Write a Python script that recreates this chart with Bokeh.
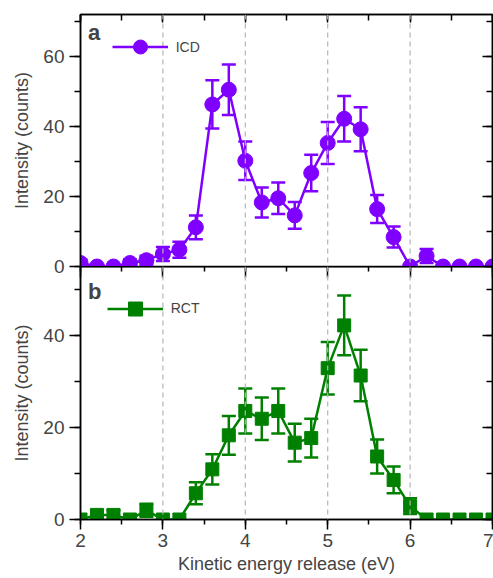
from bokeh.plotting import figure
from bokeh.models import (Range1d, LinearAxis, SingleIntervalTicker, ColumnDataSource,
                          Whisker, TeeHead, Span, Legend, LegendItem, Label)
from bokeh.layouts import column
from bokeh.embed import file_html
from bokeh.resources import INLINE

# ---------------- data ----------------
energy = [2.0, 2.2, 2.4, 2.6, 2.8, 3.0, 3.2, 3.4, 3.6, 3.8, 4.0, 4.2, 4.4,
          4.6, 4.8, 5.0, 5.2, 5.4, 5.6, 5.8, 6.0, 6.2, 6.4, 6.6, 6.8, 7.0]
icd_counts = [1.0, 0.0, 0.0, 1.0, 1.8, 3.6, 4.8, 11.2, 46.3, 50.5, 30.2, 18.3, 19.5,
              14.6, 26.7, 35.3, 42.2, 39.2, 16.4, 8.4, 0.0, 3.0, 0.0, 0.0, 0.0, 0.0]
icd_err = [1.0, 0.0, 0.0, 1.0, 1.3, 2.0, 2.3, 3.4, 6.9, 7.2, 5.5, 4.3, 4.5,
           3.8, 5.2, 6.0, 6.5, 6.3, 4.0, 3.0, 0.0, 2.0, 0.0, 0.0, 0.0, 0.0]
rct_counts = [0.0, 1.0, 1.0, 0.0, 2.0, 0.0, 0.0, 5.7, 10.9, 18.3, 23.6, 21.9, 23.6,
              16.7, 17.7, 32.9, 42.2, 31.3, 13.7, 8.6, 2.9, 0.0, 0.0, 0.0, 0.0, 0.0]
rct_err = [0.0, 1.0, 1.0, 0.0, 1.4, 0.0, 0.0, 2.4, 3.3, 4.2, 4.9, 4.6, 4.9,
           4.1, 4.2, 5.7, 6.5, 5.6, 3.7, 2.9, 1.7, 0.0, 0.0, 0.0, 0.0, 0.0]
ref_lines = [3, 4, 5, 6]
x_limits = (2, 7)
icd_ylim = (0, 72)
rct_ylim = (0, 55)

PURPLE = "#8000FF"
GREEN = "#008000"
FONT = "Liberation Sans"

xr = Range1d(*x_limits)


def style_left(ax, label):
    ax.ticker = SingleIntervalTicker(interval=20, num_minor_ticks=2)
    ax.axis_label = label
    ax.axis_label_text_font = FONT
    ax.axis_label_text_font_size = "18px"
    ax.axis_label_text_font_style = "normal"
    ax.axis_label_standoff = 8
    ax.major_label_text_font = FONT
    ax.major_label_text_font_size = "19px"
    ax.major_label_standoff = 5
    ax.major_tick_in = 0
    ax.major_tick_out = 11
    ax.minor_tick_in = 0
    ax.minor_tick_out = 6
    ax.axis_line_width = 1.5
    ax.major_tick_line_width = 1.5
    ax.minor_tick_line_width = 1.5


def mirror_axis(ticker, tin, mtin):
    return LinearAxis(ticker=ticker, major_label_text_font_size="1px",
                      major_label_text_color=None,
                      major_label_standoff=0, major_tick_in=tin, major_tick_out=0,
                      minor_tick_in=mtin, minor_tick_out=0, axis_line_width=1.5,
                      major_tick_line_width=1.5, minor_tick_line_width=1.5)


def draw_series(p, counts, err, color, marker, size, name, legend_loc):
    src = ColumnDataSource(dict(x=energy, y=counts))
    eb = dict(x=[], lo=[], hi=[])
    for xv, yv, ev in zip(energy, counts, err):
        if ev > 0:
            eb["x"].append(xv)
            eb["lo"].append(yv - ev)
            eb["hi"].append(yv + ev)
    esrc = ColumnDataSource(eb)
    for xv in ref_lines:
        p.add_layout(Span(location=xv, dimension="height", line_color="#B4B4B4",
                          line_width=1.2, line_dash="5 4"))
    w = Whisker(source=esrc, base="x", upper="hi", lower="lo", dimension="height",
                line_color=color, line_width=2.5,
                upper_head=TeeHead(size=14, line_color=color, line_width=2.5),
                lower_head=TeeHead(size=14, line_color=color, line_width=2.5))
    p.add_layout(w)
    lr = p.line("x", "y", source=src, line_color=color, line_width=2.5)
    sr = p.scatter("x", "y", source=src, marker=marker, size=size,
                   fill_color=color, line_color=color)
    leg = Legend(items=[LegendItem(label=name, renderers=[lr, sr])],
                 location=legend_loc, border_line_color=None,
                 background_fill_alpha=0, padding=0, margin=0, spacing=0,
                 glyph_width=56, glyph_height=35, label_standoff=8,
                 label_text_font=FONT, label_text_font_size="14px", label_height=35)
    p.add_layout(leg)


# ---------------- top panel (ICD) ----------------
p1 = figure(width=493, height=276, x_range=xr, y_range=Range1d(*icd_ylim),
            output_backend="svg", toolbar_location=None, x_axis_location=None,
            min_border_left=80, min_border_right=1, min_border_top=14, min_border_bottom=10)
p1.xgrid.visible = False
p1.ygrid.visible = False
p1.outline_line_color = "black"
p1.outline_line_width = 1.5
p1.border_fill_color = None
style_left(p1.left[0], "Intensity (counts)")
p1.add_layout(mirror_axis(SingleIntervalTicker(interval=1, num_minor_ticks=2), 8, 6), "above")
p1.add_layout(mirror_axis(SingleIntervalTicker(interval=20, num_minor_ticks=2), 10, 6), "right")
draw_series(p1, icd_counts, icd_err, PURPLE, "circle", 15, "ICD", (31.7, 202))
p1.add_layout(Label(x=2.09, y=70.4, text="a", text_font=FONT, text_font_style="bold",
                    text_font_size="22px", text_baseline="top"))

# ---------------- bottom panel (RCT) ----------------
p2 = figure(width=493, height=312, x_range=xr, y_range=Range1d(*rct_ylim),
            output_backend="svg", toolbar_location=None,
            min_border_left=80, min_border_right=1, min_border_top=0, min_border_bottom=59)
p2.margin = (-10, 0, 0, 0)
p2.xgrid.visible = False
p2.ygrid.visible = False
p2.outline_line_color = "black"
p2.outline_line_width = 1.5
p2.border_fill_color = None
p2.background_fill_color = None
style_left(p2.left[0], "Intensity (counts)")
xa = p2.below[0]
xa.ticker = SingleIntervalTicker(interval=1, num_minor_ticks=2)
xa.axis_label = "Kinetic energy release (eV)"
xa.axis_label_text_font = FONT
xa.axis_label_text_font_size = "18px"
xa.axis_label_text_font_style = "normal"
xa.axis_label_standoff = 4
xa.major_label_text_font = FONT
xa.major_label_text_font_size = "19px"
xa.major_label_standoff = 4
xa.major_tick_in = 0
xa.major_tick_out = 10
xa.minor_tick_in = 0
xa.minor_tick_out = 5
xa.axis_line_width = 1.5
xa.major_tick_line_width = 1.5
xa.minor_tick_line_width = 1.5
p2.add_layout(mirror_axis(SingleIntervalTicker(interval=1, num_minor_ticks=2), 11, 5), "above")
p2.add_layout(mirror_axis(SingleIntervalTicker(interval=20, num_minor_ticks=2), 10, 6), "right")
draw_series(p2, rct_counts, rct_err, GREEN, "square", 13, "RCT", (26.7, 193.5))
p2.add_layout(Label(x=2.09, y=52.3, text="b", text_font=FONT, text_font_style="bold",
                    text_font_size="22px", text_baseline="top"))

layout = column(p1, p2, spacing=0)
open("out.html", "w").write(file_html(layout, INLINE))
